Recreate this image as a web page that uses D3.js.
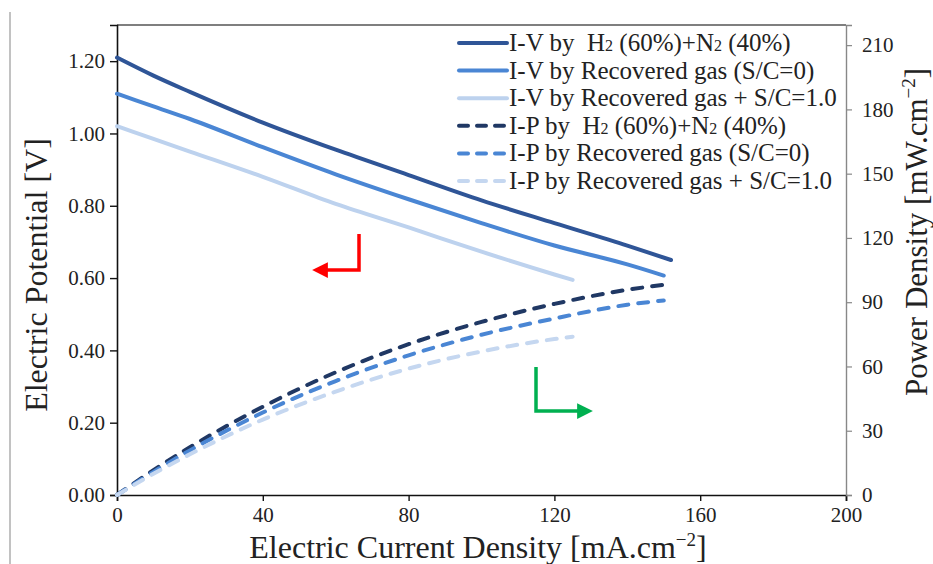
<!DOCTYPE html>
<html>
<head>
<meta charset="utf-8">
<script src="https://cdn.jsdelivr.net/npm/d3@7"></script>
<style>
  body { margin: 0; background: #fff; }
  text { font-family: "Liberation Serif", "DejaVu Serif", serif; fill: #222; white-space: pre; }
</style>
</head>
<body>
<svg id="chart" width="933" height="564"></svg>
<script>
// current density values [mA/cm2]
var ivH2Current = [0, 10, 20, 40, 60, 80, 100, 120, 140, 152];
var ivH2Volt    = [1.21, 1.16, 1.115, 1.03, 0.955, 0.885, 0.815, 0.752, 0.69, 0.65];
var ivRg0Current = [0, 10, 20, 40, 60, 80, 100, 120, 140, 150];
var ivRg0Volt    = [1.11, 1.075, 1.04, 0.962, 0.887, 0.818, 0.752, 0.69, 0.638, 0.607];
var ivRg1Current = [0, 10, 20, 40, 60, 80, 100, 120, 125];
var ivRg1Volt    = [1.02, 0.985, 0.95, 0.88, 0.805, 0.74, 0.673, 0.61, 0.595];

var ipH2Current = [0, 10, 20, 40, 60, 80, 100, 120, 140, 152];
var ipH2Power   = [0, 11.6, 22.3, 41.2, 57.3, 70.4, 80.8, 89.2, 95.8, 98.5];
var ipRg0Current = [0, 10, 20, 40, 60, 80, 100, 120, 140, 150];
var ipRg0Power   = [0, 10.8, 20.8, 38.5, 53.2, 65.2, 74.8, 82.4, 88.8, 90.8];
var ipRg1Current = [0, 10, 20, 40, 60, 80, 100, 120, 125];
var ipRg1Power   = [0, 9.9, 19, 35.2, 48.3, 59.0, 67.0, 72.8, 73.9];

var xTicks = [0, 40, 80, 120, 160, 200];
var yLeftTicks = [0, 0.2, 0.4, 0.6, 0.8, 1.0, 1.2];
var yRightTicks = [0, 30, 60, 90, 120, 150, 180, 210];

var legendLabels = [
  ["I-V by  H", "2", " (60%)+N", "2", " (40%)"],
  ["I-V by Recovered gas (S/C=0)"],
  ["I-V by Recovered gas + S/C=1.0"],
  ["I-P by  H", "2", " (60%)+N", "2", " (40%)"],
  ["I-P by Recovered gas (S/C=0)"],
  ["I-P by Recovered gas + S/C=1.0"]
];

var series = [
  {x: ivH2Current, y: ivH2Volt, axis: "left", color: "#2f5597", dash: null},
  {x: ivRg0Current, y: ivRg0Volt, axis: "left", color: "#4a86d4", dash: null},
  {x: ivRg1Current, y: ivRg1Volt, axis: "left", color: "#bdd2ee", dash: null},
  {x: ipH2Current, y: ipH2Power, axis: "right", color: "#203864", dash: "10,10"},
  {x: ipRg0Current, y: ipRg0Power, axis: "right", color: "#4a86d4", dash: "10,10"},
  {x: ipRg1Current, y: ipRg1Power, axis: "right", color: "#c5d7f0", dash: "10,10"}
];

var svg = d3.select("#chart");
var plotLeft = 117, plotRight = 846, plotTop = 25, plotBottom = 495;

var x = d3.scaleLinear().domain([0, 200]).range([plotLeft, plotRight]);
var yL = d3.scaleLinear().domain([0, 1.3]).range([plotBottom, plotTop]);
var yR = d3.scaleLinear().domain([0, 219.4]).range([plotBottom, plotTop]);

// stray page line at far left
svg.append("line").attr("x1", 10).attr("x2", 10).attr("y1", 12).attr("y2", 564)
  .attr("stroke", "#999").attr("stroke-width", 1.2);

// top frame line
svg.append("line").attr("x1", plotLeft).attr("x2", plotRight).attr("y1", plotTop).attr("y2", plotTop)
  .attr("stroke", "#555").attr("stroke-width", 1.3);

// axes
var gx = svg.append("g").attr("transform", `translate(0,${plotBottom})`)
  .call(d3.axisBottom(x).tickValues(xTicks).tickSize(6).tickFormat(d3.format("d")));
var gl = svg.append("g").attr("transform", `translate(${plotLeft},0)`)
  .call(d3.axisLeft(yL).tickValues(yLeftTicks).tickSize(7).tickFormat(d3.format(".2f")));
var gr = svg.append("g").attr("transform", `translate(${plotRight},0)`)
  .call(d3.axisRight(yR).tickValues(yRightTicks).tickSize(6).tickFormat(d3.format("d")));

[gx, gl].forEach(g => {
  g.select(".domain").attr("stroke", "#111").attr("stroke-width", 1.6);
  g.selectAll(".tick line").attr("stroke", "#111").attr("stroke-width", 1.4);
});
gr.select(".domain").attr("stroke", "#888").attr("stroke-width", 1.4);
gr.selectAll(".tick line").attr("stroke", "#888").attr("stroke-width", 1.2);

gx.selectAll(".tick text").attr("font-size", 21).attr("dy", "0.85em")
  .attr("font-family", "Liberation Serif").attr("fill", "#222");
gl.selectAll(".tick text").attr("font-size", 21).attr("x", -12)
  .attr("font-family", "Liberation Serif").attr("fill", "#222");
gr.selectAll(".tick text").attr("font-size", 21).attr("x", 16)
  .attr("font-family", "Liberation Serif").attr("fill", "#222");

// axis titles
svg.append("text").attr("x", 478).attr("y", 558).attr("text-anchor", "middle")
  .attr("font-size", 32)
  .html('Electric Current Density [mA.cm<tspan dy="-12" font-size="19">−2</tspan><tspan dy="12">]</tspan>');
svg.append("text").attr("transform", "translate(47,275) rotate(-90)")
  .attr("text-anchor", "middle").attr("font-size", 32).text("Electric Potential [V]");
svg.append("text").attr("transform", "translate(927,232) rotate(-90)")
  .attr("text-anchor", "middle").attr("font-size", 31)
  .html('Power Density [mW.cm<tspan dy="-12" font-size="19">−2</tspan><tspan dy="12">]</tspan>');

// lines
series.forEach(s => {
  var yScale = s.axis === "left" ? yL : yR;
  var pts = s.x.map((v, i) => [v, s.y[i]]);
  var line = d3.line().x(d => x(d[0])).y(d => yScale(d[1])).curve(d3.curveMonotoneX);
  svg.append("path").datum(pts).attr("d", line)
    .attr("fill", "none").attr("stroke", s.color).attr("stroke-width", 4)
    .attr("stroke-linecap", "round")
    .attr("stroke-dasharray", s.dash);
});

// legend
var legend = svg.append("g");
legendLabels.forEach((lab, i) => {
  var yy = 43 + i * 27.6;
  var s = series[i];
  legend.append("line").attr("x1", 459).attr("x2", 507).attr("y1", yy).attr("y2", yy)
    .attr("stroke", s.color).attr("stroke-width", 4).attr("stroke-linecap", "round")
    .attr("stroke-dasharray", s.dash ? "9,9" : null);
  var t = legend.append("text").attr("x", 509).attr("y", yy + 8).attr("font-size", 25);
  lab.forEach(part => {
    var sp = t.append("tspan").text(part);
    if (part === "2") sp.attr("font-size", 16);
  });
});

// direction arrows
var defs = svg.append("defs");
[["red", "#ff0000"], ["green", "#00b050"]].forEach(c => {
  defs.append("marker").attr("id", "arr-" + c[0]).attr("viewBox", "0 0 10 10")
    .attr("refX", 5).attr("refY", 5).attr("markerWidth", 4.5).attr("markerHeight", 4.5)
    .attr("orient", "auto")
    .append("path").attr("d", "M0,0 L10,5 L0,10 z").attr("fill", c[1]);
});
svg.append("path").attr("d", "M359,234 L359,270 L320,270")
  .attr("fill", "none").attr("stroke", "#ff0000").attr("stroke-width", 3.5)
  .attr("marker-end", "url(#arr-red)");
svg.append("path").attr("d", "M536,367 L536,411 L585,411")
  .attr("fill", "none").attr("stroke", "#00b050").attr("stroke-width", 3.5)
  .attr("marker-end", "url(#arr-green)");
</script>
</body>
</html>
